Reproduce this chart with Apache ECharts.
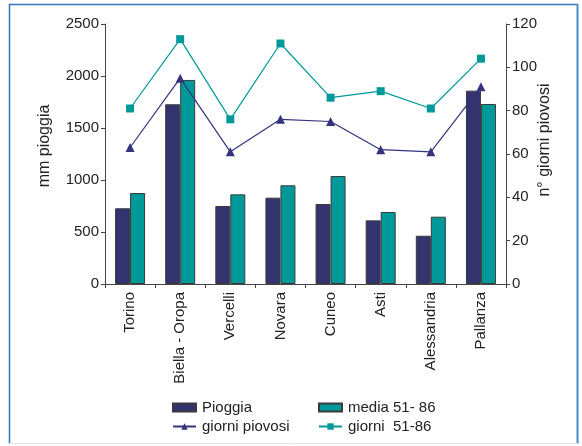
<!DOCTYPE html>
<html>
<head>
<meta charset="utf-8">
<script src="https://cdn.jsdelivr.net/npm/echarts@6/dist/echarts.min.js"></script>
<style>
  html, body { margin: 0; padding: 0; background: #fff; }
  #chart { width: 582px; height: 446px; }
</style>
</head>
<body>
<div id="chart"></div>
<script>
// Stations and rainfall figures
const stations = ['Torino', 'Biella - Oropa', 'Vercelli', 'Novara', 'Cuneo', 'Asti', 'Alessandria', 'Pallanza'];
const pioggia = [728, 1728, 750, 830, 769, 612, 464, 1859];          // mm
const media5186 = [875, 1962, 862, 949, 1038, 692, 647, 1731];       // mm, 1951-1986 mean
const giorniPiovosi = [63, 95, 61, 76, 75, 62, 61, 91];              // rainy days
const giorni5186 = [81, 113, 76, 111, 86, 89, 81, 104];             // rainy days, 1951-1986 mean
const mmTicks = [0, 500, 1000, 1500, 2000, 2500];
const dayTicks = [0, 20, 40, 60, 80, 100, 120];

const FONT = 'Liberation Sans, Arial, sans-serif';
const NAVY = '#333370';
const TEAL = '#009999';
const LINE_NAVY = '#33337f';
const AXIS = '#444';

const chart = echarts.init(document.getElementById('chart'), null, { renderer: 'canvas' });

const labelStyle = { color: '#222', fontSize: 15, fontFamily: FONT };
const nameStyle = { color: '#222', fontSize: 16, fontFamily: FONT };
const plain = v => String(v);

chart.setOption({
  animation: false,
  backgroundColor: '#fff',
  grid: { left: 105, right: 76, top: 24, bottom: 162, containLabel: false },
  xAxis: {
    type: 'category',
    data: stations,
    axisLine: { lineStyle: { color: AXIS, width: 1 } },
    axisTick: { show: true, alignWithLabel: false, length: 4, lineStyle: { color: AXIS } },
    axisLabel: Object.assign({ rotate: 90, margin: 8, interval: 0 }, labelStyle),
    splitLine: { show: false }
  },
  yAxis: [
    {
      type: 'value',
      min: mmTicks[0],
      max: mmTicks[mmTicks.length - 1],
      interval: 500,
      position: 'left',
      name: 'mm pioggia',
      nameLocation: 'middle',
      nameRotate: 90,
      nameGap: 52,
      nameMoveOverlap: false,
      nameTextStyle: Object.assign({ padding: [0, 0, 0, 16] }, nameStyle),
      axisLine: { show: true, lineStyle: { color: AXIS, width: 1 } },
      axisTick: { show: true, length: 4, lineStyle: { color: AXIS } },
      axisLabel: Object.assign({ margin: 6, formatter: plain }, labelStyle),
      splitLine: { show: false }
    },
    {
      type: 'value',
      min: dayTicks[0],
      max: dayTicks[dayTicks.length - 1],
      interval: 20,
      position: 'right',
      name: 'n° giorni piovosi',
      nameLocation: 'middle',
      nameRotate: 90,
      nameGap: 31,
      nameMoveOverlap: false,
      nameTextStyle: Object.assign({ padding: [0, 0, 0, 28] }, nameStyle),
      axisLine: { show: true, lineStyle: { color: AXIS, width: 1 } },
      axisTick: { show: true, length: 4, lineStyle: { color: AXIS } },
      axisLabel: Object.assign({ margin: 6, formatter: plain }, labelStyle),
      splitLine: { show: false }
    }
  ],
  legend: [
    {
      orient: 'vertical',
      left: 172,
      top: 400,
      padding: 0,
      itemWidth: 23,
      itemHeight: 8,
      itemGap: 4,
      textStyle: Object.assign({ padding: [0, 0, 0, 1] }, labelStyle),
      data: [{ name: 'Pioggia', icon: 'rect' }, 'giorni piovosi']
    },
    {
      orient: 'vertical',
      left: 318,
      top: 400,
      padding: 0,
      itemWidth: 23,
      itemHeight: 8,
      itemGap: 4,
      textStyle: Object.assign({ padding: [0, 0, 0, 1] }, labelStyle),
      data: [{ name: 'media 51- 86', icon: 'rect' }, 'giorni  51-86']
    }
  ],
  series: [
    {
      name: 'Pioggia',
      type: 'bar',
      yAxisIndex: 0,
      data: pioggia,
      barWidth: 15,
      barGap: '0%',
      itemStyle: { color: NAVY, borderColor: '#3a3a3a', borderWidth: 1 }
    },
    {
      name: 'media 51- 86',
      type: 'bar',
      yAxisIndex: 0,
      data: media5186,
      barWidth: 15,
      barGap: '0%',
      itemStyle: { color: TEAL, borderColor: '#3a3a3a', borderWidth: 1 }
    },
    {
      name: 'giorni piovosi',
      type: 'line',
      yAxisIndex: 1,
      data: giorniPiovosi,
      symbol: 'triangle',
      symbolSize: 9,
      lineStyle: { color: LINE_NAVY, width: 1.2 },
      itemStyle: { color: LINE_NAVY }
    },
    {
      name: 'giorni  51-86',
      type: 'line',
      yAxisIndex: 1,
      data: giorni5186,
      symbol: 'rect',
      symbolSize: 8,
      lineStyle: { color: TEAL, width: 1.2 },
      itemStyle: { color: TEAL }
    }
  ],
  graphic: [
    // Outer frame of the figure
    { type: 'line', shape: { x1: 9.5, y1: 4, x2: 9.5, y2: 444 }, style: { stroke: '#2f78c0', lineWidth: 1.5 } },
    { type: 'line', shape: { x1: 9, y1: 4.5, x2: 578, y2: 4.5 }, style: { stroke: '#2f78c0', lineWidth: 1.5 } },
    { type: 'line', shape: { x1: 577.5, y1: 4, x2: 577.5, y2: 444 }, style: { stroke: '#4a8ccc', lineWidth: 2 } },
    { type: 'line', shape: { x1: 9, y1: 443.5, x2: 578, y2: 443.5 }, style: { stroke: '#e4e4e4', lineWidth: 1 } }
  ]
});
</script>
</body>
</html>
